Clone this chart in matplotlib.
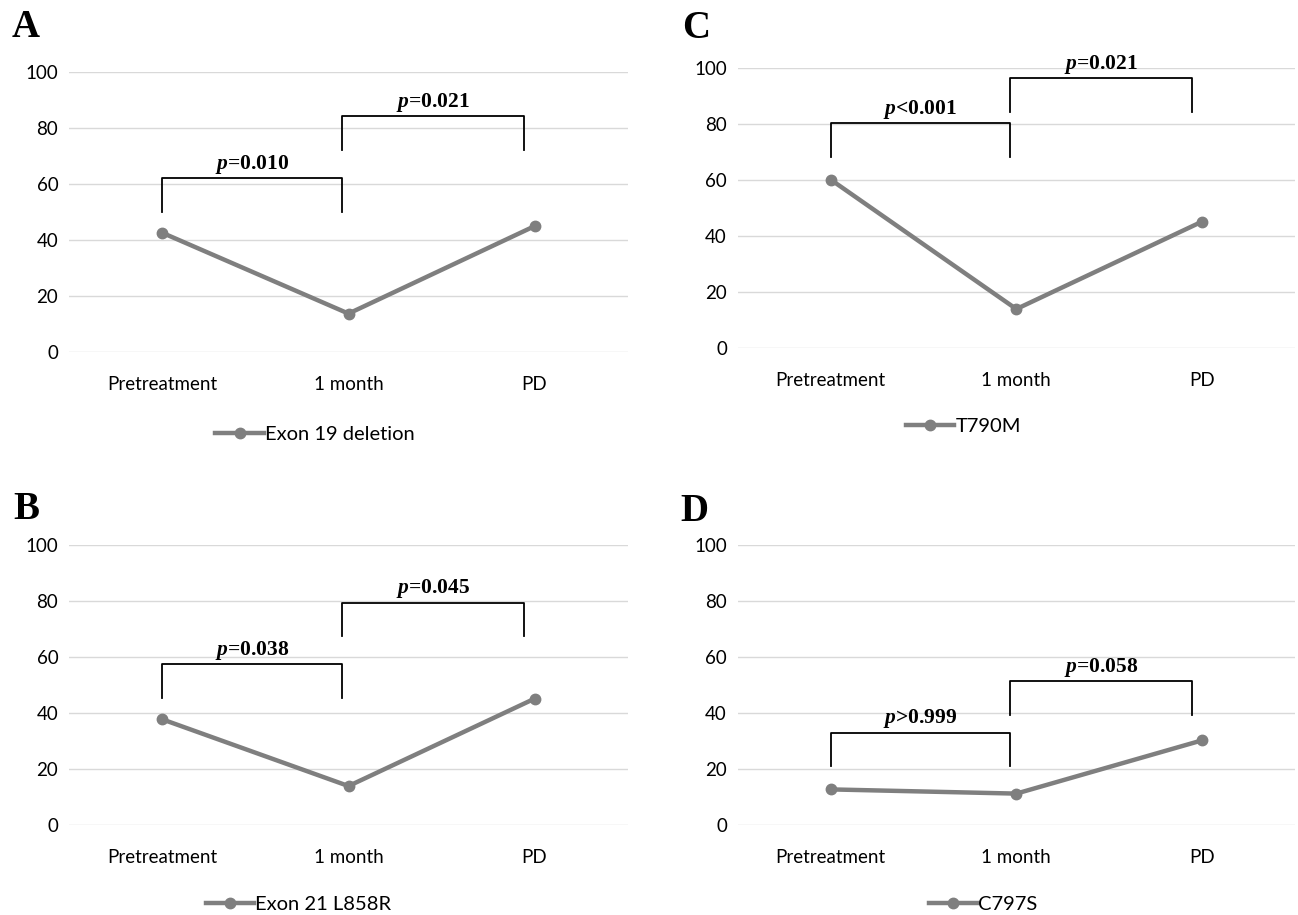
import matplotlib
matplotlib.use("Agg")
import matplotlib.pyplot as plt

# Data
categories = ["Pretreatment", "1 month", "PD"]
exon19 = [42.5, 13.7, 44.9]
t790m = [60.1, 13.9, 45.1]
l858r = [37.7, 13.9, 45.1]
c797s = [12.7, 11.2, 30.2]

series_names = ["Exon 19 deletion", "T790M", "Exon 21 L858R", "C797S"]
panel_letters = ["A", "C", "B", "D"]
p_labels = [["=0.010", "=0.021"], ["<0.001", "=0.021"],
            ["=0.038", "=0.045"], [">0.999", "=0.058"]]
# bracket tops (y values) for first / second comparison
bracket_tops = [[62.0, 84.2], [80.2, 96.4], [57.4, 79.4], [33.0, 51.4]]

line_color = "#7f7f7f"
grid_color = "#d9d9d9"

plt.rcParams["mathtext.fontset"] = "custom"
plt.rcParams["mathtext.it"] = "Liberation Serif:italic:bold"
plt.rcParams["mathtext.rm"] = "Liberation Serif:bold"

fig = plt.figure(figsize=(12.98, 9.15), dpi=100)

# axes rectangles in figure fractions
rects = [
    [0.0535, 0.6153, 0.430, 0.3063],
    [0.5686, 0.6197, 0.4288, 0.3060],
    [0.0535, 0.0984, 0.430, 0.3060],
    [0.5686, 0.0984, 0.4288, 0.3060],
]
legend_pos = [(0.44, -0.294), (0.405, -0.279), (0.41, -0.283), (0.44, -0.283)]
letter_pos = [(0.0092, 0.9596), (0.5254, 0.9585), (0.0100, 0.4328), (0.5239, 0.4306)]
all_values = [exon19, t790m, l858r, c797s]

tick_font = "Lato"

for i in range(4):
    ax = fig.add_axes(rects[i])
    x = range(len(categories))
    ax.plot(x, all_values[i], color=line_color, lw=3.2, marker="o",
            markersize=7.5, label=series_names[i], zorder=3, clip_on=False)
    ax.set_xlim(-0.5, 2.5)
    ax.set_ylim(0, 100)
    ax.set_yticks(range(0, 101, 20))
    ax.set_xticks(list(x))
    ax.set_xticklabels(categories)
    ax.yaxis.grid(True, color=grid_color, lw=1)
    ax.set_axisbelow(True)
    for s in ax.spines.values():
        s.set_visible(False)
    ax.tick_params(axis="both", length=0, labelsize=13.5, colors="black")
    ax.tick_params(axis="x", pad=17)
    ax.tick_params(axis="y", pad=8)
    for lab in ax.get_xticklabels() + ax.get_yticklabels():
        lab.set_fontfamily(tick_font)

    # significance brackets
    top1, top2 = bracket_tops[i]
    xm = 0.965
    xr = 1.945
    ax.plot([0, 0, xm, xm], [top1 - 12, top1, top1, top1 - 12],
            color="black", lw=1.3, clip_on=False)
    ax.plot([xm, xm, xr, xr], [top2 - 12, top2, top2, top2 - 12],
            color="black", lw=1.3, clip_on=False)
    ax.text(xm / 2, top1 + 0.8, "$p$" + p_labels[i][0], ha="center", va="bottom",
            fontsize=15.5, fontfamily="Liberation Serif", fontweight="bold")
    ax.text((xm + xr) / 2, top2 + 0.8, "$p$" + p_labels[i][1], ha="center",
            va="bottom", fontsize=15.5, fontfamily="Liberation Serif",
            fontweight="bold")

    leg = ax.legend(loc="center", bbox_to_anchor=legend_pos[i], frameon=False,
                    handlelength=2.4, handletextpad=0.05,
                    prop={"family": tick_font, "size": 14.5})

    # panel letter
    fig.text(letter_pos[i][0], letter_pos[i][1], panel_letters[i],
             fontsize=28, fontweight="bold", fontfamily="Liberation Serif",
             ha="left", va="baseline")

plt.savefig("out.png", dpi=100)
